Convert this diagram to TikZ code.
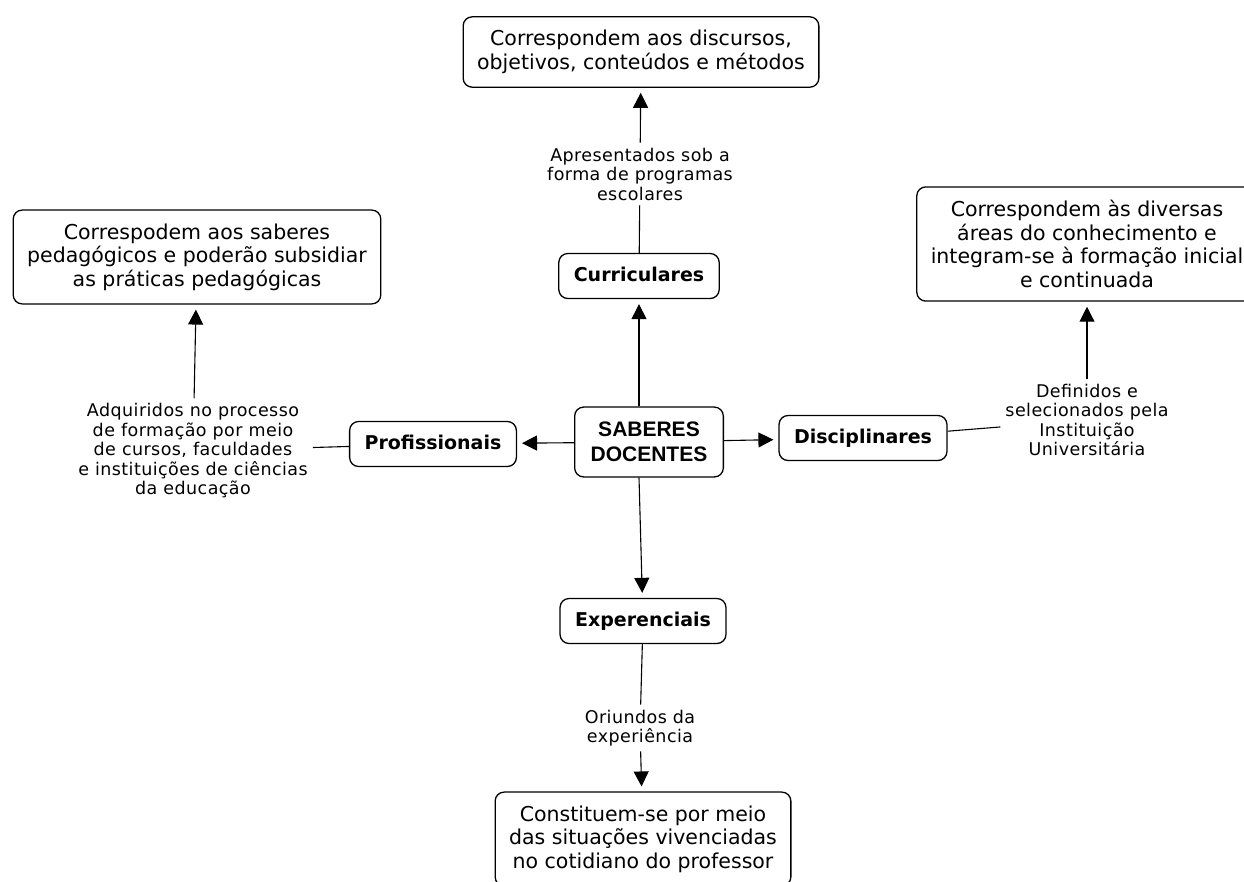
\documentclass[tikz,border=0pt]{standalone}
\usepackage{fontspec}
\setmainfont{DejaVu Sans}
\newfontfamily\headfont{Liberation Sans}
\newfontfamily\linkfont[LetterSpace=2.5]{DejaVu Sans}
\usetikzlibrary{arrows.meta}

\begin{document}
\begin{tikzpicture}[x=1pt,y=-1pt,>={Triangle[width=15pt,length=15pt]},concept/.style={draw, rounded corners=9pt, line width=1.3pt, align=center, inner xsep=14pt, inner ysep=13.5pt, font=\fontsize{20.5}{23.5}\selectfont},topic/.style={draw, rounded corners=9pt, line width=1.3pt, inner xsep=15pt, inner ysep=13pt, text height=14.5pt, text depth=4.5pt, font=\fontsize{19}{22}\selectfont\bfseries},root/.style={draw, rounded corners=9pt, line width=1.3pt, align=center, inner xsep=16pt, inner ysep=15pt, font=\headfont\fontsize{21}{25}\selectfont\bfseries},link/.style={align=center, inner sep=5pt, font=\linkfont\fontsize{17.5}{19.5}\selectfont},arrow/.style={->, line width=1.1pt, shorten >=5pt},tie/.style={line width=1.1pt}]
\useasboundingbox (0,0) rectangle (1244,881);
\node[root] (saberes) at (649,442) {SABERES\\DOCENTES};
\node[topic] (cur) at (639,276) {Curriculares};
\node[topic] (prof) at (433,444) {Profissionais};
\node[topic] (disc) at (863,438) {Disciplinares};
\node[topic] (exp) at (643,621) {Experenciais};
\node[link] (curlink) at (640,174) {Apresentados sob a\\forma de programas\\escolares};
\node[link] (proflink) at (193,451) {Adquiridos no processo\\de formação por meio\\de cursos, faculdades\\e instituições de ciências\\da educação};
\node[link] (disclink) at (1087,420) {Definidos e\\selecionados pela\\Instituição\\Universitária};
\node[link] (explink) at (640,728) {Oriundos da\\experiência};
\node[concept] (curbox) at (641,52) {Correspondem aos discursos,\\objetivos, conteúdos e métodos};
\node[concept] (profbox) at (197,257) {Correspodem aos saberes\\pedagógicos e poderão subsidiar\\as práticas pedagógicas};
\node[concept] (discbox) at (1087,244) {Correspondem às diversas\\áreas do conhecimento e\\integram-se à formação inicial\\e continuada};
\node[concept] (expbox) at (643,839) {Constituem-se por meio\\das situações vivenciadas\\no cotidiano do professor};
% ramos a partir do conceito central
\draw[arrow] (saberes.north -| cur) -- (cur);
\draw[arrow] (saberes) -- (prof);
\draw[arrow] (saberes) -- (disc);
\draw[arrow] (saberes.south -| cur) -- (exp);
% frases de ligacao
\draw[tie] (cur) -- (curlink); \draw[arrow] (curlink) -- (curbox);
\draw[tie] (prof) -- (proflink); \draw[arrow] (proflink) -- (profbox);
\draw[tie] (disc) -- (disclink); \draw[arrow] (disclink) -- (discbox);
\draw[tie] (exp) -- (explink); \draw[arrow] (explink) -- (expbox);
\end{tikzpicture}
\end{document}
